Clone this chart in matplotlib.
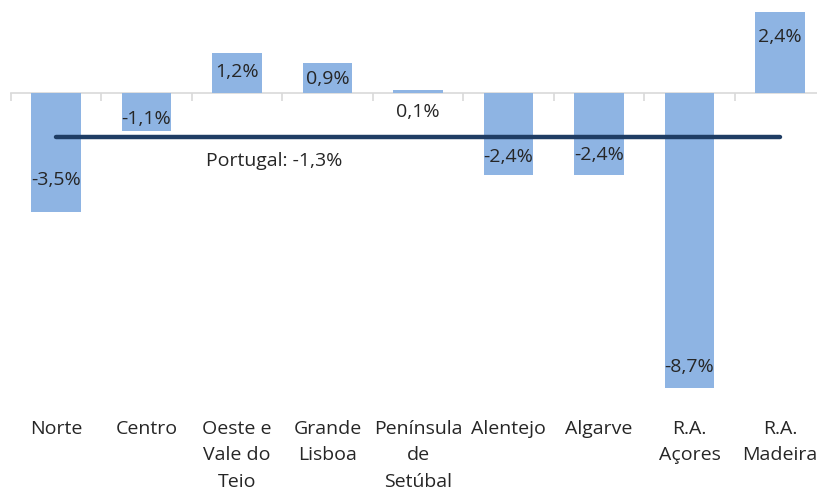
import matplotlib.pyplot as plt
from matplotlib.transforms import blended_transform_factory

plt.rcParams['font.family'] = ['Open Sans', 'DejaVu Sans']

regions = ['Norte', 'Centro', 'Oeste e\nVale do\nTeio', 'Grande\nLisboa',
           'Península\nde\nSetúbal', 'Alentejo', 'Algarve', 'R.A.\nAçores',
           'R.A.\nMadeira']
values = [-3.5, -1.1, 1.2, 0.9, 0.1, -2.4, -2.4, -8.7, 2.4]
portugal = -1.3

# how far (px) each value label sits inside from the bar end
label_inset = [32, 12, 19, 16, 22, 18, 20, 21, 25]

fig = plt.figure(figsize=(8.17, 4.9), dpi=100)
ax = fig.add_axes([10.75 / 817, 1 - 400 / 490, 814.5 / 817, 400 / 490])

x = list(range(len(regions)))
ax.bar(x, values, width=0.55, color='#8eb4e3', zorder=2)
ax.plot([x[0], x[-1]], [portugal, portugal], color='#1f3d64', lw=3.2,
        solid_capstyle='round', zorder=3)

for xi, v, d in zip(x, values, label_inset):
    dy = -d * 0.72 if v > 0 else d * 0.72
    ax.annotate(f'{v:.1f}%'.replace('.', ','), (xi, v), xytext=(0, dy),
                textcoords='offset points', ha='center', va='center',
                fontsize=14, color='#262626', zorder=4)

ax.text(2.41, -2.0, f'Portugal: {portugal:.1f}%'.replace('.', ','),
        ha='center', va='center', fontsize=14, color='#262626', zorder=4)

trans = blended_transform_factory(ax.transData, ax.transAxes)
for xi, name in zip(x, regions):
    ax.text(xi, -0.05, name, ha='center', va='top', fontsize=14,
            color='#262626', linespacing=1.6, transform=trans)

ax.set_xlim(-0.5, len(regions) - 0.5)
ax.set_ylim((93.5 - 400) / 33.8, 93.5 / 33.8)
for s in ['top', 'left', 'right']:
    ax.spines[s].set_visible(False)
ax.spines['bottom'].set_position(('data', 0))
ax.spines['bottom'].set_color('#d9d9d9')
ax.spines['bottom'].set_linewidth(1.2)
ax.spines['bottom'].set_zorder(1)
ax.set_yticks([])
ax.set_xticks([i - 0.5 for i in range(len(regions) + 1)])
ax.tick_params(axis='x', length=6, width=1.2, color='#d9d9d9', labelbottom=False)

fig.savefig('out.png', dpi=100)
